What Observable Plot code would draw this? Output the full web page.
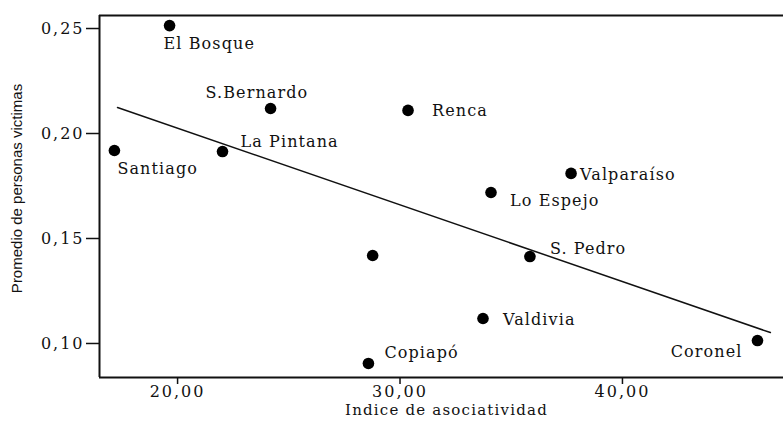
<!DOCTYPE html>
<html><head><meta charset="utf-8">
<script src="https://cdn.jsdelivr.net/npm/d3@7"></script>
<script src="https://cdn.jsdelivr.net/npm/@observablehq/plot@0.6"></script>
<style>
body{margin:0;background:#fff} svg{display:block}
.ch [aria-label="x-axis tick label"] text,
.ch [aria-label="y-axis tick label"] text{letter-spacing:2px}
.ch .pt-label text{letter-spacing:1.1px}
.ch .x-title text{letter-spacing:1.2px}
</style>
</head><body><div id="chart"></div>
<script>
// Data
const comunas = ["El Bosque","S.Bernardo","Renca","Santiago","La Pintana","Valparaíso","Lo Espejo","","S. Pedro","Valdivia","Copiapó","Coronel"];
const asociatividad = [19.64,24.18,30.36,17.16,22.02,37.69,34.09,28.77,35.84,33.73,28.58,46.07];
const victimas = [0.2514,0.2119,0.2110,0.1919,0.1914,0.1810,0.1719,0.1419,0.1414,0.1119,0.0905,0.1014];
const trendX = [17.30, 46.65];
const trendY = [0.2124, 0.1052];
const xTicks = [20, 30, 40];
const yTicks = [0.10, 0.15, 0.20, 0.25];
const xLabel = "Indice de asociatividad";
const yLabel = "Promedio de personas victimas";

// Label placement (style only)
const placement = {
  "El Bosque": {dx:-6, dy:18, a:"start"},
  "S.Bernardo": {dx:-65, dy:-16, a:"start"},
  "Renca": {dx:24, dy:0, a:"start"},
  "Santiago": {dx:3, dy:18, a:"start"},
  "La Pintana": {dx:18, dy:-10, a:"start"},
  "Valparaíso": {dx:9, dy:1, a:"start"},
  "Lo Espejo": {dx:19, dy:8, a:"start"},
  "S. Pedro": {dx:20, dy:-8, a:"start"},
  "Valdivia": {dx:20, dy:1, a:"start"},
  "Copiapó": {dx:16, dy:-11, a:"start"},
  "Coronel": {dx:-15, dy:11, a:"end"}
};

const data = comunas.map((c, i) => ({c, x: asociatividad[i], y: victimas[i]}));
const trend = trendX.map((x, i) => ({x, y: trendY[i]}));
const fmt = d => d3.format(".2f")(d).replace(".", ",");
const xDom = [16.49, 47.24], yDom = [0.0838, 0.2562];
const serif = "DejaVu Serif";

const labelMarks = Object.entries(placement).map(([name, p]) =>
  Plot.text(data.filter(d => d.c === name), {x:"x", y:"y", text:"c", dx:p.dx, dy:p.dy, textAnchor:p.a,
    fontSize:16, fontFamily:serif, fill:"#111", className:"pt-label"})
);

const chart = Plot.plot({
  width: 783, height: 423,
  marginLeft: 99, marginRight: 0, marginTop: 15, marginBottom: 46,
  className: "ch",
  x: {domain: xDom},
  y: {domain: yDom},
  style: {fontFamily: serif, fontSize: "16px", color: "#111", background: "#fff"},
  marks: [
    Plot.axisX({ticks: xTicks, tickFormat: fmt, tickSize: 7, tickPadding: 1, label: null, fontSize: 16, strokeWidth: 1.5}),
    Plot.axisY({ticks: yTicks, tickFormat: fmt, tickSize: 13, tickPadding: 2, label: null, fontSize: 16, strokeWidth: 1.5}),
    Plot.ruleX([xDom[0]], {stroke: "#111", strokeWidth: 2}),
    Plot.ruleY(yDom, {stroke: "#111", strokeWidth: 2}),
    Plot.line(trend, {x: "x", y: "y", stroke: "#111", strokeWidth: 1.5}),
    Plot.dot(data, {x: "x", y: "y", r: 5.8, fill: "#000", stroke: "none"}),
    ...labelMarks,
    Plot.text([xLabel], {frameAnchor: "bottom", dx: 5, dy: 37, fontSize: 15, fontFamily: serif, fill: "#111", className: "x-title"}),
    Plot.text([yLabel], {frameAnchor: "left", textAnchor: "middle", dx: -82, dy: -8, rotate: -90, fontSize: 15, fontFamily: "Liberation Sans", fill: "#111"})
  ]
});
document.getElementById("chart").appendChild(chart);
</script>
</body></html>
